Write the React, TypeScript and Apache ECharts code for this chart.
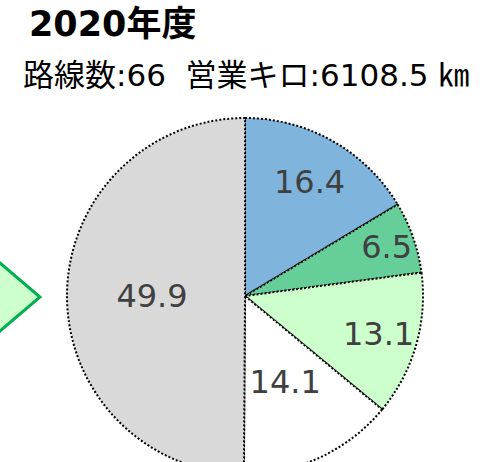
import React, { useEffect, useRef } from "react";
import * as echarts from "echarts";

const TITLE = "2020年度";
const SUBTITLE = "路線数:66  営業キロ:6108.5 ㎞";
const categories = ["A", "B", "C", "D", "E"];
const values = [16.4, 6.5, 13.1, 14.1, 49.9];
const colors = ["#7FB5DD", "#66CF99", "#CCFFCC", "#FFFFFF", "#D9D9D9"];
const labelRadii = [128, 147, 136, 92, 90];

const CX = 245;
const CY = 296;
const R = 178;
const NUM_FONT = "'DejaVu Sans', 'Noto Sans CJK JP', sans-serif";

export default function App() {
  const ref = useRef<HTMLDivElement>(null);
  useEffect(() => {
    if (!ref.current) return;
    const chart = echarts.init(ref.current, null, { renderer: "svg" });
    const mainData = values.map((v, i) => ({
      name: categories[i],
      value: v,
      itemStyle: { color: colors[i] },
    }));
    const labelSeries = values.map((_, i) => ({
      type: "pie",
      silent: true,
      z: 5,
      center: [CX, CY],
      radius: [0, labelRadii[i] * 2],
      startAngle: 90,
      data: values.map((v, j) => ({
        name: categories[j],
        value: v,
        label: { show: j === i },
      })),
      itemStyle: { color: "rgba(0,0,0,0)", borderWidth: 0 },
      label: {
        position: "inside",
        formatter: (p: any) => p.value.toFixed(1),
        color: "#404040",
        fontSize: 32,
        fontFamily: NUM_FONT,
      },
      labelLine: { show: false },
      emphasis: { disabled: true },
    }));
    chart.setOption({
      animation: false,
      backgroundColor: "#ffffff",
      title: [
        {
          text: TITLE,
          left: 24,
          top: 1,
          textStyle: {
            fontSize: 35,
            fontWeight: "bold",
            color: "#000",
            fontFamily: NUM_FONT,
          },
        },
        {
          text: SUBTITLE,
          left: 18,
          top: 54,
          textStyle: {
            fontSize: 31,
            fontWeight: "normal",
            color: "#000",
            fontFamily: NUM_FONT,
          },
        },
      ],
      graphic: [
        {
          type: "polygon",
          shape: {
            points: [
              [-20, 246],
              [40, 297],
              [-20, 348],
            ],
          },
          style: { fill: "#CCFFCC", stroke: "#00B050", lineWidth: 3 },
          z: 1,
        },
      ],
      series: [
        {
          type: "pie",
          center: [CX, CY],
          radius: [0, R],
          startAngle: 90,
          clockwise: true,
          data: mainData,
          itemStyle: {
            borderColor: "#000",
            borderWidth: 2,
            borderType: [2, 2],
          },
          label: { show: false },
          labelLine: { show: false },
          emphasis: { disabled: true },
        },
        ...labelSeries,
      ],
    });
    return () => chart.dispose();
  }, []);
  return (
    <div
      ref={ref}
      style={{ position: "fixed", left: 0, top: 0, width: 492, height: 462 }}
    />
  );
}
